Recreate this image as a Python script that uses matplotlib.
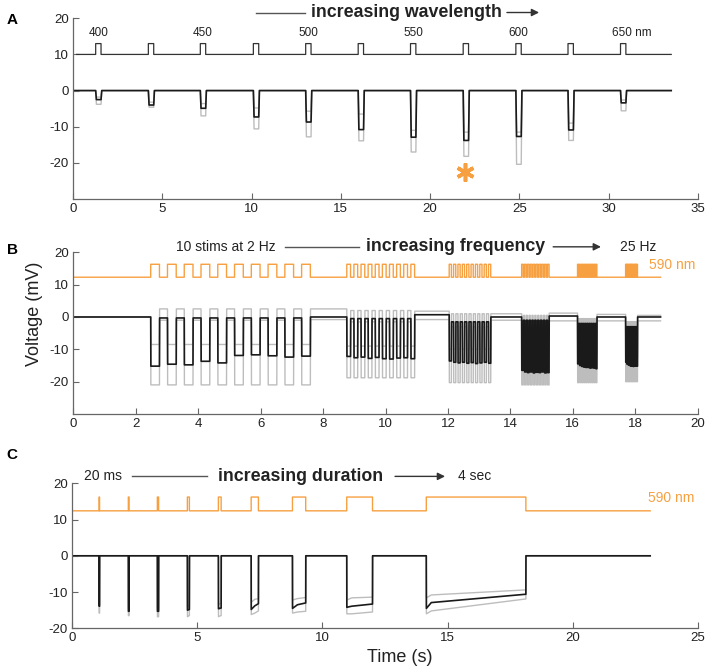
import matplotlib
matplotlib.use('Agg')
import matplotlib.pyplot as plt
import numpy as np

plt.rcParams['font.family'] = ['Liberation Sans', 'DejaVu Sans']
plt.rcParams['axes.unicode_minus'] = False

c_orange = '#F7A041'
c_black = '#1a1a1a'
c_gray = '#bdbdbd'
c_axis = '#666666'
c_text = '#222222'

# ---------------- panel A : wavelength series ----------------
a_onsets = [1.27, 4.22, 7.13, 10.10, 13.03, 15.97, 18.90, 21.85, 24.80, 27.72, 30.66]
a_dur = 0.30
a_stop = 33.5
a_wl_labels = ['400', '', '450', '', '500', '', '550', '', '600', '', '650 nm']
a_mean = [-2.5, -4.0, -4.9, -7.3, -8.7, -10.8, -12.9, -13.8, -12.7, -10.9, -3.4]
a_gray_lo = [-3.8, -4.6, -7.0, -10.6, -12.8, -13.9, -17.0, -18.2, -20.4, -13.8, -5.6]
a_gray_hi = [-1.8, -3.2, -3.6, -4.8, -5.7, -6.5, -11.0, -11.5, -11.5, -9.0, -2.6]
a_stim_lo, a_stim_hi = 10.0, 13.0
a_star = (21.95, -22.4)

# ---------------- panel B : frequency series ----------------
b_starts = [2.48, 8.76, 12.04, 14.36, 16.15, 17.69]
b_period = [0.537, 0.228, 0.140, 0.092, 0.065, 0.040]
b_width = [0.280, 0.120, 0.070, 0.050, 0.035, 0.020]
b_nstim = 10
b_stop = 18.81
b_mean = [
    [-15.2, -14.6, -14.8, -13.7, -14.2, -11.9, -11.7, -12.0, -12.4, -12.1],
    [-12.2, -12.6, -12.4, -12.8, -12.5, -12.9, -13.0, -12.7, -12.6, -12.9],
    [-13.6, -14.0, -14.2, -14.0, -14.3, -14.1, -14.4, -14.2, -14.0, -14.3],
    [-16.5, -17.0, -17.2, -17.0, -17.3, -17.1, -17.2, -17.0, -17.3, -17.2],
    [-14.5, -15.0, -15.3, -15.5, -15.6, -15.6, -15.8, -15.7, -15.8, -16.0],
    [-14.0, -14.6, -14.8, -15.0, -15.2, -15.2, -15.3, -15.2, -15.2, -15.2],
]
b_rec = [-0.3, -0.5, -1.5, -1.0, -2.0, -3.0]
b_after = [0.0, 0.7, 0.0, 0.3, 0.0, 0.0]
b_gray_lo = [-21.0, -18.8, -20.3, -21.0, -20.3, -20.0]
b_gray_lo_rec = [-1.0, -1.5, -3.0, -4.0, -5.0, -6.0]
b_gray_lo_after = [-0.8, -0.8, -1.0, -1.2, -1.2, -1.2]
b_gray_hi = [-8.5, -9.0, -10.0, -12.0, -12.0, -12.5]
b_gray_hi_rec = [2.5, 2.0, 1.0, 0.5, -0.5, -1.5]
b_gray_hi_after = [2.5, 1.8, 1.0, 1.2, 0.8, 0.5]
b_stim_lo, b_stim_hi = 12.3, 16.3

# ---------------- panel C : duration series ----------------
c_onsets = [1.07, 2.24, 3.40, 4.60, 5.84, 7.15, 8.80, 10.97, 14.15]
c_durs = [0.02, 0.03, 0.05, 0.08, 0.11, 0.29, 0.53, 1.03, 3.98]
c_stop = 23.1
c_peak = [-13.9, -15.3, -15.3, -15.0, -14.6, -14.8, -14.5, -14.2, -14.5]
c_settle = [-13.9, -15.3, -15.3, -14.9, -14.5, -13.8, -13.5, -13.9, -12.9]
c_end = [-13.9, -15.3, -15.3, -14.8, -14.4, -13.2, -13.0, -13.3, -10.6]
c_gray_lo_peak = [-15.8, -16.5, -16.8, -16.8, -16.8, -16.2, -15.8, -16.0, -16.0]
c_gray_lo_settle = [-15.8, -16.5, -16.8, -16.6, -16.6, -15.8, -15.5, -16.0, -15.2]
c_gray_lo_end = [-15.8, -16.5, -16.8, -16.5, -16.5, -15.2, -15.3, -15.5, -11.9]
c_gray_hi_peak = [-13.5, -14.5, -14.5, -14.0, -13.5, -12.8, -12.2, -12.2, -11.6]
c_gray_hi_settle = [-13.5, -14.5, -14.5, -13.8, -13.2, -12.0, -11.8, -11.6, -10.8]
c_gray_hi_end = [-13.5, -14.5, -14.5, -13.5, -13.0, -11.8, -11.5, -11.4, -9.4]
c_stim_lo, c_stim_hi = 12.4, 16.2


def build(segs, base, t_stop, ramp, t0=0.0):
    # segs: (onset, duration, level at onset, level settled, level at offset, level after)
    t, v = [t0], [base]
    prev = base
    for on, d, s, m, e, after in segs:
        settle = on + min(0.2, 0.5 * d)
        t += [on, on + ramp, settle, on + d, on + d + ramp]
        v += [prev, s, m, e, after]
        prev = after
    t.append(t_stop)
    v.append(prev)
    return np.array(t), np.array(v)


def style_axes(ax):
    for s in ['top', 'right']:
        ax.spines[s].set_visible(False)
    for s in ['left', 'bottom']:
        ax.spines[s].set_color(c_axis)
        ax.spines[s].set_linewidth(0.9)
    ax.tick_params(direction='in', length=4.5, width=0.8, colors=c_axis,
                   labelcolor=c_text, labelsize=9.5, pad=3)


def header(ax, items, y):
    for kind, x1, x2, txt in items:
        if kind == 'line':
            ax.plot([x1, x2], [y, y], color='#555555', lw=1, clip_on=False)
        elif kind == 'arrow':
            ax.annotate('', xy=(x2, y), xytext=(x1, y), annotation_clip=False,
                        arrowprops=dict(arrowstyle='-|>', color='#333333', lw=1,
                                        mutation_scale=11, shrinkA=0, shrinkB=0))
        elif kind == 'bold':
            ax.text(x1, y, txt, fontsize=12.8, weight='bold', color=c_text,
                    ha='left', va='center', clip_on=False)
        else:
            ax.text(x1, y, txt, fontsize=10, color=c_text,
                    ha='left', va='center', clip_on=False)


fig = plt.figure(figsize=(7.08, 6.70), dpi=100)
fig.patch.set_facecolor('white')

# ======== A ========
axA = fig.add_axes([0.1031, 0.703, 0.8828, 0.2697])
style_axes(axA)
ts, vs = build([(o, a_dur, a_stim_hi, a_stim_hi, a_stim_hi, a_stim_lo) for o in a_onsets],
               a_stim_lo, a_stop, 0.0001, t0=0.2)
axA.plot(ts, vs, color='#333333', lw=0.9)
for amps, col in [(a_gray_lo, c_gray), (a_gray_hi, c_gray), (a_mean, c_black)]:
    t, v = build([(o, a_dur, a, a, a, 0.0) for o, a in zip(a_onsets, amps)],
                 0.0, a_stop, 0.04, t0=0.05)
    axA.plot(t, v, color=col, lw=1.2 if col == c_black else 1.0)
for o, lab in zip(a_onsets, a_wl_labels):
    if lab == '650 nm':
        axA.text(o - 0.45, 14.4, lab, fontsize=8.5, ha='left', va='bottom', color=c_text)
    elif lab:
        axA.text(o + a_dur / 2, 14.4, lab, fontsize=8.5, ha='center', va='bottom', color=c_text)
axA.plot(*a_star, marker=(6, 2, 0), ms=13, mew=2.6, color=c_orange)
axA.set_xlim(0, 35)
axA.set_ylim(-30, 20)
axA.set_xticks([0, 5, 10, 15, 20, 25, 30, 35])
axA.set_yticks([-20, -10, 0, 10, 20])
header(axA, [('line', 10.25, 13.0, ''), ('bold', 13.3, 0, 'increasing wavelength'),
             ('arrow', 24.3, 26.1, '')], 21.6)

# ======== B ========
axB = fig.add_axes([0.1035, 0.3821, 0.8820, 0.2413])
style_axes(axB)
stim_segs = []
for k in range(len(b_starts)):
    for i in range(b_nstim):
        on = b_starts[k] + i * b_period[k]
        stim_segs.append((on, b_width[k], b_stim_hi, b_stim_hi, b_stim_hi, b_stim_lo))
ts, vs = build(stim_segs, b_stim_lo, b_stop, 0.0001)
axB.plot(ts, vs, color=c_orange, lw=1.0)


def b_trace(amp_of, rec, after):
    segs = []
    for k in range(len(b_starts)):
        for i in range(b_nstim):
            on = b_starts[k] + i * b_period[k]
            lvl = after[k] if i == b_nstim - 1 else rec[k]
            a = amp_of(k, i)
            segs.append((on, b_width[k], a, a, a, lvl))
    return build(segs, 0.0, b_stop, 0.005)


t, v = b_trace(lambda k, i: b_gray_lo[k], b_gray_lo_rec, b_gray_lo_after)
axB.plot(t, v, color=c_gray, lw=1.0)
t, v = b_trace(lambda k, i: b_gray_hi[k], b_gray_hi_rec, b_gray_hi_after)
axB.plot(t, v, color=c_gray, lw=1.0)
t, v = b_trace(lambda k, i: b_mean[k][i], b_rec, b_after)
axB.plot(t, v, color=c_black, lw=1.2)
axB.set_xlim(0, 20)
axB.set_ylim(-30, 20)
axB.set_xticks(range(0, 21, 2))
axB.set_yticks([-20, -10, 0, 10, 20])
header(axB, [('text', 3.3, 0, '10 stims at 2 Hz'), ('line', 6.78, 9.15, ''),
             ('bold', 9.37, 0, 'increasing frequency'), ('arrow', 15.37, 16.9, ''),
             ('text', 17.5, 0, '25 Hz')], 21.7)
axB.text(18.45, 16.1, '590 nm', fontsize=10, color=c_orange, ha='left', va='center',
         clip_on=False)

# ======== C ========
axC = fig.add_axes([0.1021, 0.0622, 0.8834, 0.2165])
style_axes(axC)
ts, vs = build([(o, d, c_stim_hi, c_stim_hi, c_stim_hi, c_stim_lo)
                for o, d in zip(c_onsets, c_durs)],
               c_stim_lo, c_stop, 0.0001)
axC.plot(ts, vs, color=c_orange, lw=1.0)
for pk, st, en, col in [(c_gray_lo_peak, c_gray_lo_settle, c_gray_lo_end, c_gray),
                        (c_gray_hi_peak, c_gray_hi_settle, c_gray_hi_end, c_gray),
                        (c_peak, c_settle, c_end, c_black)]:
    segs = [(o, d, p, s, e, 0.0) for o, d, p, s, e in zip(c_onsets, c_durs, pk, st, en)]
    t, v = build(segs, 0.0, c_stop, 0.004)
    axC.plot(t, v, color=col, lw=1.2 if col == c_black else 1.0)
axC.set_xlim(0, 25)
axC.set_ylim(-20, 20)
axC.set_xticks([0, 5, 10, 15, 20, 25])
axC.set_yticks([-20, -10, 0, 10, 20])
header(axC, [('text', 0.45, 0, '20 ms'), ('line', 2.37, 5.37, ''),
             ('bold', 5.84, 0, 'increasing duration'), ('arrow', 12.9, 14.9, ''),
             ('text', 15.4, 0, '4 sec')], 21.9)
axC.text(23.0, 15.9, '590 nm', fontsize=10, color=c_orange, ha='left', va='center',
         clip_on=False)

# panel letters and axis titles
for lab, y in [('A', 0.970), ('B', 0.627), ('C', 0.321)]:
    fig.text(0.017, y, lab, fontsize=11, weight='bold', ha='center', va='center')
fig.text(0.049, 0.532, 'Voltage (mV)', fontsize=13, rotation=90,
         ha='center', va='center', color=c_text)
fig.text(0.565, 0.018, 'Time (s)', fontsize=13, ha='center', va='center', color=c_text)

fig.savefig('out.png', dpi=100, facecolor='white')
